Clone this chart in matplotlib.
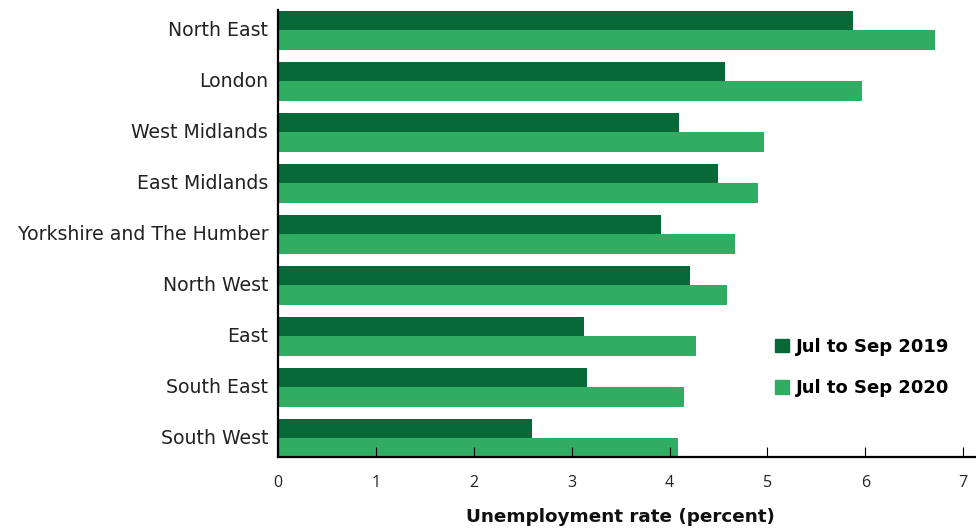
import numpy as np
import matplotlib
matplotlib.use("Agg")
import matplotlib.pyplot as plt
from matplotlib.patches import Patch

regions = ["North East", "London", "West Midlands", "East Midlands",
           "Yorkshire and The Humber", "North West", "East", "South East",
           "South West"]
rate_2019 = [5.87, 4.57, 4.10, 4.49, 3.91, 4.21, 3.13, 3.16, 2.59]
rate_2020 = [6.71, 5.97, 4.96, 4.90, 4.67, 4.59, 4.27, 4.15, 4.09]
series_names = ["Jul to Sep 2019", "Jul to Sep 2020"]
xticks = [0, 1, 2, 3, 4, 5, 6, 7]

dark = "#066937"
light = "#31ad63"

plt.rcParams["font.family"] = ["DejaVu Sans"]

fig = plt.figure(figsize=(9.76, 5.32), dpi=100)
ax = fig.add_axes([0.2848, 0.141, 0.7152, 0.840])

y = np.arange(len(regions))
h = 0.38
ax.barh(y - h / 2, rate_2019, height=h, color=dark, label=series_names[0])
ax.barh(y + h / 2, rate_2020, height=h, color=light, label=series_names[1])

ax.set_ylim(8.37, -0.40)
ax.set_xlim(0, 7.13)
ax.set_yticks(y - 0.03)
ax.set_yticklabels(regions, fontsize=13.6, color="#222222")
ax.set_xticks(xticks)
ax.set_xticklabels([str(t) for t in xticks], fontsize=11.5, color="#222222",
                   family="Open Sans")

ax.tick_params(axis="y", length=0, pad=7)
ax.tick_params(axis="x", direction="in", length=7, width=0.8, pad=13)

for s in ["top", "right"]:
    ax.spines[s].set_visible(False)
for s in ["left", "bottom"]:
    ax.spines[s].set_linewidth(1.6)
    ax.spines[s].set_color("black")

ax.set_xlabel("Unemployment rate (percent)", fontsize=13.2, fontweight="bold",
              labelpad=14, color="#111111")
ax.xaxis.set_label_coords(0.49, -0.115)

handles = [Patch(color=dark, label=series_names[0]),
           Patch(color=light, label=series_names[1])]
fig.legend(handles=handles, loc="upper left", bbox_to_anchor=(0.794, 0.365),
           frameon=False, prop={"weight": "bold", "size": 13},
           borderpad=0, borderaxespad=0,
           handlelength=0.8, handleheight=0.8, handletextpad=0.35,
           labelspacing=1.3)

fig.savefig("out.png", dpi=100)
